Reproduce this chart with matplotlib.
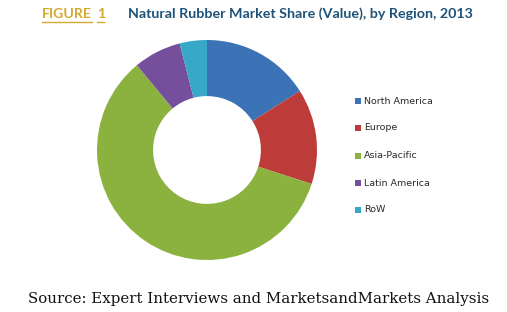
import matplotlib
matplotlib.use("Agg")
import matplotlib.pyplot as plt

regions = ["North America", "Europe", "Asia-Pacific", "Latin America", "RoW"]
shares = [16, 14, 59, 7, 4]
colors = ["#3C72B6", "#BD3B38", "#8BB23F", "#754E9C", "#37A8C8"]

title_fig_word = "FIGURE"
title_fig_num = "1"
title_main = "Natural Rubber Market Share (Value), by Region, 2013"
source = "Source: Expert Interviews and MarketsandMarkets Analysis"

W, H = 507, 312
fig = plt.figure(figsize=(W / 100, H / 100), dpi=100)
fig.patch.set_facecolor("white")
renderer = fig.canvas.get_renderer()


def fx(x):
    return x / W


def fy(y):
    return 1 - y / H


def fitted_text(x0, x1, y, s, size, **kw):
    t = fig.text(fx(x0), fy(y), s, fontsize=size, va="center", ha="left", **kw)
    w = t.get_window_extent(renderer).width
    t.set_fontsize(size * (x1 - x0) / w)
    return t


# pie axes: center (207,150), radius ~110 px
r = 110
cx, cy = 207, 150
ax = fig.add_axes([fx(cx - r), fy(cy + r), 2 * r / W, 2 * r / H])
ax.pie(shares, colors=colors, startangle=90, counterclock=False,
       radius=1.0, wedgeprops=dict(width=0.51, edgecolor="none"))
ax.set_xlim(-1, 1)
ax.set_ylim(-1, 1)
ax.set_aspect("equal")
ax.axis("off")

# legend
leg_y = [101, 128, 156, 183, 210]
for name, col, y in zip(regions, colors, leg_y):
    fig.patches.append(plt.Rectangle((fx(355), fy(y + 3)), 6 / W, 6 / H,
                                     transform=fig.transFigure, facecolor=col, edgecolor="none"))
    fig.text(fx(364), fy(y), name, fontsize=6.8, color="#2a2a2a",
             va="center", ha="left", family="DejaVu Sans")

# title
gold = "#D4AA2E"
tfont = "Lato"
tw = fitted_text(42, 92, 14, title_fig_word, 12, fontweight="bold", color=gold, family=tfont)
fig.text(fx(97), fy(14), title_fig_num, fontsize=tw.get_fontsize(), fontweight="bold",
         color=gold, family=tfont, va="center", ha="left")
for a, b in [(42, 92), (97, 104)]:
    fig.add_artist(plt.Line2D([fx(a), fx(b)], [fy(22), fy(22)], color=gold,
                              lw=1, transform=fig.transFigure))
fitted_text(128, 472, 14, title_main, 12, fontweight="bold", color="#1E5279", family=tfont)

# source
fitted_text(28, 492, 299, source, 10.5, color="#111111", family="DejaVu Serif")

fig.savefig("out.png", dpi=100, facecolor="white")
